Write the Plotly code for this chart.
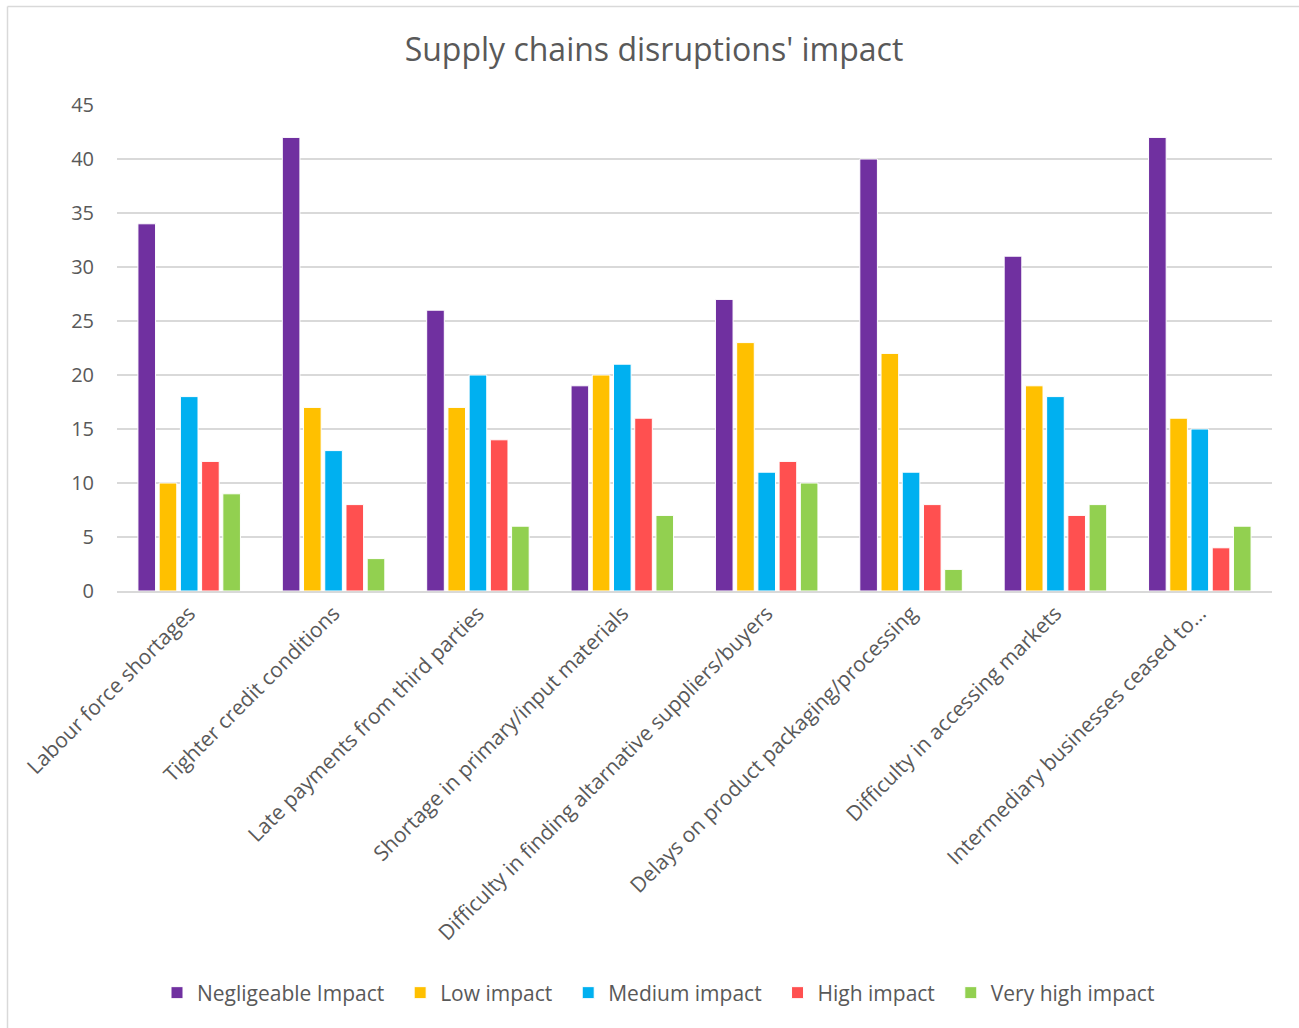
import plotly.graph_objects as go

categories = [
    "Labour force shortages",
    "Tighter credit conditions",
    "Late payments from third parties",
    "Shortage in primary/input materials",
    "Difficulty in finding altarnative suppliers/buyers",
    "Delays on product packaging/processing",
    "Difficulty in accessing markets",
    "Intermediary businesses ceased to…",
]
negligeable = [34, 42, 26, 19, 27, 40, 31, 42]
low = [10, 17, 17, 20, 23, 22, 19, 16]
medium = [18, 13, 20, 21, 11, 11, 18, 15]
high = [12, 8, 14, 16, 12, 8, 7, 4]
very_high = [9, 3, 6, 7, 10, 2, 8, 6]
y_ticks = [0, 5, 10, 15, 20, 25, 30, 35, 40, 45]

series = [
    ("Negligeable Impact", negligeable, "#7030A0"),
    ("Low impact", low, "#FFC000"),
    ("Medium impact", medium, "#00B0F0"),
    ("High impact", high, "#FF5050"),
    ("Very high impact", very_high, "#92D050"),
]

FONT = "Open Sans, Segoe UI, sans-serif"
GREY = "#595959"

fig = go.Figure()
for name, vals, col in series:
    fig.add_trace(go.Bar(
        x=categories, y=vals, name=name + "\u00a0\u00a0",
        marker=dict(color=col, line=dict(color="white", width=1)),
    ))

L, R, T, B = 117, 27, 105, 437
W, H = 1299, 1028
pw = W - L - R
ph = H - T - B

fig.update_layout(
    width=W, height=H,
    margin=dict(l=L, r=R, t=T, b=B, pad=0),
    paper_bgcolor="white", plot_bgcolor="white",
    barmode="group", bargap=0.265, bargroupgap=0.17,
    title=dict(text="Supply chains disruptions' impact", x=654 / W, xref="container",
               y=1 - 50 / H, yref="container", yanchor="middle", xanchor="center",
               font=dict(family=FONT, size=32, color=GREY)),
    font=dict(family=FONT, color=GREY),
    showlegend=True,
    legend=dict(orientation="h", x=(664 - L) / pw, xanchor="center", y=(ph - (993 - T)) / ph,
                yanchor="middle", font=dict(family=FONT, size=21, color=GREY),
                itemwidth=30, traceorder="normal"),
    xaxis=dict(tickangle=-45, tickfont=dict(family=FONT, size=21, color=GREY),
               showline=True, linecolor="#D9D9D9", linewidth=1.5, ticks="",
               showgrid=False),
    yaxis=dict(range=[0, 45], tickvals=y_ticks, tickfont=dict(family=FONT, size=20, color=GREY),
               showgrid=True, gridcolor="#D9D9D9", gridwidth=1.5, zeroline=False,
               showline=False, ticks="", ticklabelstandoff=22),
)

# outer chart frame (left and top edges visible)
x_left = (7.5 - L) / pw
y_top = (H - B - 6.5) / ph
fig.add_shape(type="line", xref="paper", yref="paper", x0=x_left, x1=(W + 5 - L) / pw,
              y0=y_top, y1=y_top, line=dict(color="#D9D9D9", width=1.5))
fig.add_shape(type="line", xref="paper", yref="paper", x0=x_left, x1=x_left,
              y0=y_top, y1=(H - B - H - 5) / ph, line=dict(color="#D9D9D9", width=1.5))

fig.write_html("out.html", config={"displayModeBar": False},
               post_script="document.body.style.margin='0';")
